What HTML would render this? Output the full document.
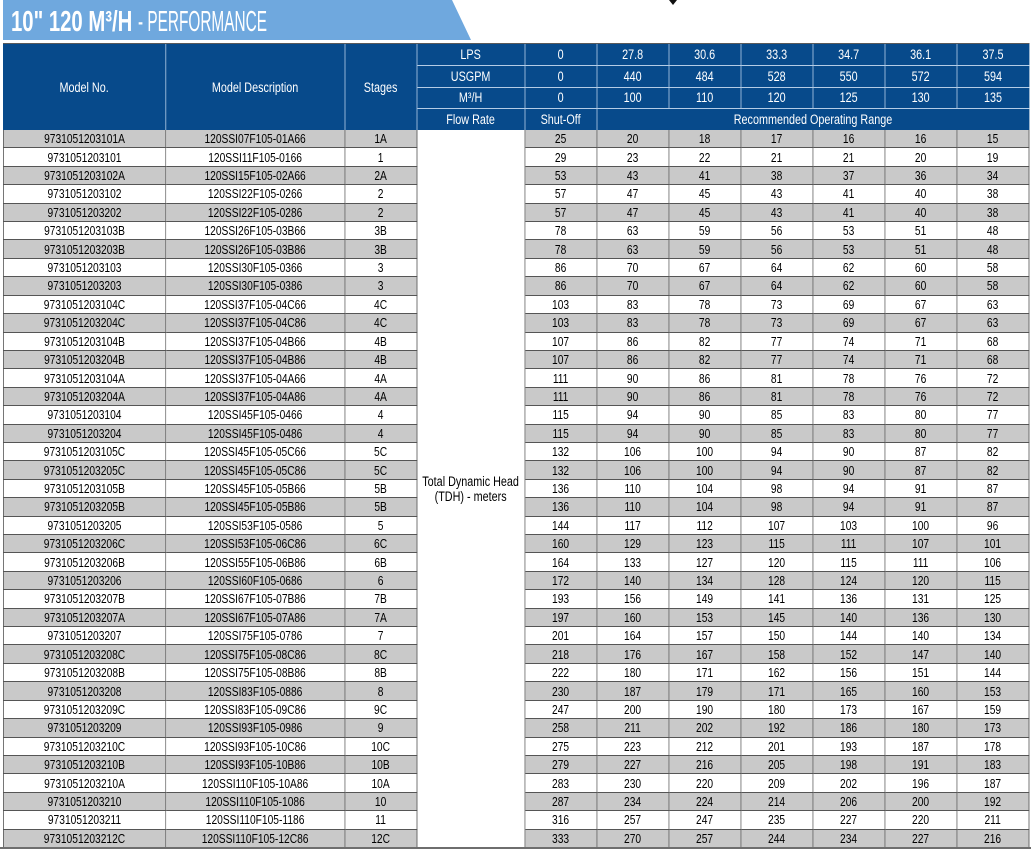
<!DOCTYPE html>
<html><head><meta charset="utf-8">
<style>
html,body{margin:0;padding:0}
body{width:1033px;height:851px;position:relative;background:#fff;overflow:hidden;font-family:"Liberation Sans",sans-serif}
.banner{position:absolute;left:3px;top:0;width:470px;height:40px;background:#6fa8de;clip-path:polygon(0 0,449px 0,468px 40px,0 40px)}
.t1,.t2{position:absolute;top:7.5px;font-size:29px;line-height:29px;color:#fff;white-space:nowrap;transform-origin:0 0}
.t1{left:11px;font-weight:bold;transform:scaleX(0.70)}
.t2{left:138px;font-weight:normal;transform:scaleX(0.53)}
.tri{position:absolute;left:669px;top:0;width:0;height:0;border-left:4px solid transparent;border-right:4px solid transparent;border-top:5px solid #111}
.hdr{position:absolute;left:3px;top:43px;width:1282.5px;height:87px;box-sizing:border-box;transform:scaleX(0.8);transform-origin:0 0;display:grid;
 grid-template-columns:203.75px 223.75px 90px 135px repeat(7,90px);grid-template-rows:22px 21.5px 21px 21.5px;background:#074a8b;border-top:1px solid #5a5a5a}
.hdr div{display:flex;align-items:center;justify-content:center;color:#fff;font-size:13.5px;border-right:1.25px solid #b4cce6;border-bottom:1px solid #b4cce6;box-sizing:border-box;white-space:nowrap}
.hdr .nr{border-right:none}
.hdr .nb{border-bottom:none}
.dat{position:absolute;left:3px;top:130px;width:1282.5px;height:718px;transform:scaleX(0.8);transform-origin:0 0;display:grid;
 grid-template-columns:203.75px 223.75px 90px 135px repeat(7,90px);grid-template-rows:repeat(39,1fr)}
.dat p{margin:0;display:flex;align-items:center;justify-content:center;font-size:12.8px;color:#000;border-right:1.25px solid #555;border-bottom:1px solid #555;box-sizing:border-box;white-space:nowrap;background:#fff}
.dat p:first-child{border-left:1.25px solid #555}
.g,.w{display:contents}
.g p{background:#c9c9c9}
.tdh{grid-column:4;grid-row:1/40;display:flex;align-items:center;justify-content:center;text-align:center;font-size:13.5px;line-height:15px;color:#000;background:#fff;border-right:1.25px solid #555;border-bottom:1px solid #555;box-sizing:border-box}
.bot{position:absolute;left:0;top:847px;width:1031px;height:2px;background:#6e6e6e}
</style></head><body>
<div class="banner"></div>
<div class="t1">10" 120 M³/H</div>
<div class="t2">- PERFORMANCE</div>
<div class="tri"></div>

<div class="hdr">
<div class="nb" style="grid-column:1;grid-row:1/5">Model No.</div>
<div class="nb" style="grid-column:2;grid-row:1/5">Model Description</div>
<div class="nb" style="grid-column:3;grid-row:1/5">Stages</div>
<div style="grid-column:4;grid-row:1">LPS</div><div>0</div><div>27.8</div><div>30.6</div><div>33.3</div><div>34.7</div><div>36.1</div><div class="nr">37.5</div>
<div style="grid-column:4;grid-row:2">USGPM</div><div>0</div><div>440</div><div>484</div><div>528</div><div>550</div><div>572</div><div class="nr">594</div>
<div style="grid-column:4;grid-row:3">M³/H</div><div>0</div><div>100</div><div>110</div><div>120</div><div>125</div><div>130</div><div class="nr">135</div>
<div class="nb" style="grid-column:4;grid-row:4">Flow Rate</div><div class="nb" style="grid-column:5;grid-row:4">Shut-Off</div><div class="nb nr" style="grid-column:6/12;grid-row:4">Recommended Operating Range</div>
</div>

<div class="dat">
<div class="tdh">Total Dynamic Head<br>(TDH) - meters</div>
<div class=g><p>9731051203101A<p>120SSI07F105-01A66<p>1A<p>25<p>20<p>18<p>17<p>16<p>16<p>15</div>
<div class=w><p>9731051203101<p>120SSI11F105-0166<p>1<p>29<p>23<p>22<p>21<p>21<p>20<p>19</div>
<div class=g><p>9731051203102A<p>120SSI15F105-02A66<p>2A<p>53<p>43<p>41<p>38<p>37<p>36<p>34</div>
<div class=w><p>9731051203102<p>120SSI22F105-0266<p>2<p>57<p>47<p>45<p>43<p>41<p>40<p>38</div>
<div class=g><p>9731051203202<p>120SSI22F105-0286<p>2<p>57<p>47<p>45<p>43<p>41<p>40<p>38</div>
<div class=w><p>9731051203103B<p>120SSI26F105-03B66<p>3B<p>78<p>63<p>59<p>56<p>53<p>51<p>48</div>
<div class=g><p>9731051203203B<p>120SSI26F105-03B86<p>3B<p>78<p>63<p>59<p>56<p>53<p>51<p>48</div>
<div class=w><p>9731051203103<p>120SSI30F105-0366<p>3<p>86<p>70<p>67<p>64<p>62<p>60<p>58</div>
<div class=g><p>9731051203203<p>120SSI30F105-0386<p>3<p>86<p>70<p>67<p>64<p>62<p>60<p>58</div>
<div class=w><p>9731051203104C<p>120SSI37F105-04C66<p>4C<p>103<p>83<p>78<p>73<p>69<p>67<p>63</div>
<div class=g><p>9731051203204C<p>120SSI37F105-04C86<p>4C<p>103<p>83<p>78<p>73<p>69<p>67<p>63</div>
<div class=w><p>9731051203104B<p>120SSI37F105-04B66<p>4B<p>107<p>86<p>82<p>77<p>74<p>71<p>68</div>
<div class=g><p>9731051203204B<p>120SSI37F105-04B86<p>4B<p>107<p>86<p>82<p>77<p>74<p>71<p>68</div>
<div class=w><p>9731051203104A<p>120SSI37F105-04A66<p>4A<p>111<p>90<p>86<p>81<p>78<p>76<p>72</div>
<div class=g><p>9731051203204A<p>120SSI37F105-04A86<p>4A<p>111<p>90<p>86<p>81<p>78<p>76<p>72</div>
<div class=w><p>9731051203104<p>120SSI45F105-0466<p>4<p>115<p>94<p>90<p>85<p>83<p>80<p>77</div>
<div class=g><p>9731051203204<p>120SSI45F105-0486<p>4<p>115<p>94<p>90<p>85<p>83<p>80<p>77</div>
<div class=w><p>9731051203105C<p>120SSI45F105-05C66<p>5C<p>132<p>106<p>100<p>94<p>90<p>87<p>82</div>
<div class=g><p>9731051203205C<p>120SSI45F105-05C86<p>5C<p>132<p>106<p>100<p>94<p>90<p>87<p>82</div>
<div class=w><p>9731051203105B<p>120SSI45F105-05B66<p>5B<p>136<p>110<p>104<p>98<p>94<p>91<p>87</div>
<div class=g><p>9731051203205B<p>120SSI45F105-05B86<p>5B<p>136<p>110<p>104<p>98<p>94<p>91<p>87</div>
<div class=w><p>9731051203205<p>120SSI53F105-0586<p>5<p>144<p>117<p>112<p>107<p>103<p>100<p>96</div>
<div class=g><p>9731051203206C<p>120SSI53F105-06C86<p>6C<p>160<p>129<p>123<p>115<p>111<p>107<p>101</div>
<div class=w><p>9731051203206B<p>120SSI55F105-06B86<p>6B<p>164<p>133<p>127<p>120<p>115<p>111<p>106</div>
<div class=g><p>9731051203206<p>120SSI60F105-0686<p>6<p>172<p>140<p>134<p>128<p>124<p>120<p>115</div>
<div class=w><p>9731051203207B<p>120SSI67F105-07B86<p>7B<p>193<p>156<p>149<p>141<p>136<p>131<p>125</div>
<div class=g><p>9731051203207A<p>120SSI67F105-07A86<p>7A<p>197<p>160<p>153<p>145<p>140<p>136<p>130</div>
<div class=w><p>9731051203207<p>120SSI75F105-0786<p>7<p>201<p>164<p>157<p>150<p>144<p>140<p>134</div>
<div class=g><p>9731051203208C<p>120SSI75F105-08C86<p>8C<p>218<p>176<p>167<p>158<p>152<p>147<p>140</div>
<div class=w><p>9731051203208B<p>120SSI75F105-08B86<p>8B<p>222<p>180<p>171<p>162<p>156<p>151<p>144</div>
<div class=g><p>9731051203208<p>120SSI83F105-0886<p>8<p>230<p>187<p>179<p>171<p>165<p>160<p>153</div>
<div class=w><p>9731051203209C<p>120SSI83F105-09C86<p>9C<p>247<p>200<p>190<p>180<p>173<p>167<p>159</div>
<div class=g><p>9731051203209<p>120SSI93F105-0986<p>9<p>258<p>211<p>202<p>192<p>186<p>180<p>173</div>
<div class=w><p>9731051203210C<p>120SSI93F105-10C86<p>10C<p>275<p>223<p>212<p>201<p>193<p>187<p>178</div>
<div class=g><p>9731051203210B<p>120SSI93F105-10B86<p>10B<p>279<p>227<p>216<p>205<p>198<p>191<p>183</div>
<div class=w><p>9731051203210A<p>120SSI110F105-10A86<p>10A<p>283<p>230<p>220<p>209<p>202<p>196<p>187</div>
<div class=g><p>9731051203210<p>120SSI110F105-1086<p>10<p>287<p>234<p>224<p>214<p>206<p>200<p>192</div>
<div class=w><p>9731051203211<p>120SSI110F105-1186<p>11<p>316<p>257<p>247<p>235<p>227<p>220<p>211</div>
<div class=g><p>9731051203212C<p>120SSI110F105-12C86<p>12C<p>333<p>270<p>257<p>244<p>234<p>227<p>216</div>
</div>
<div class="bot"></div>
</body></html>
